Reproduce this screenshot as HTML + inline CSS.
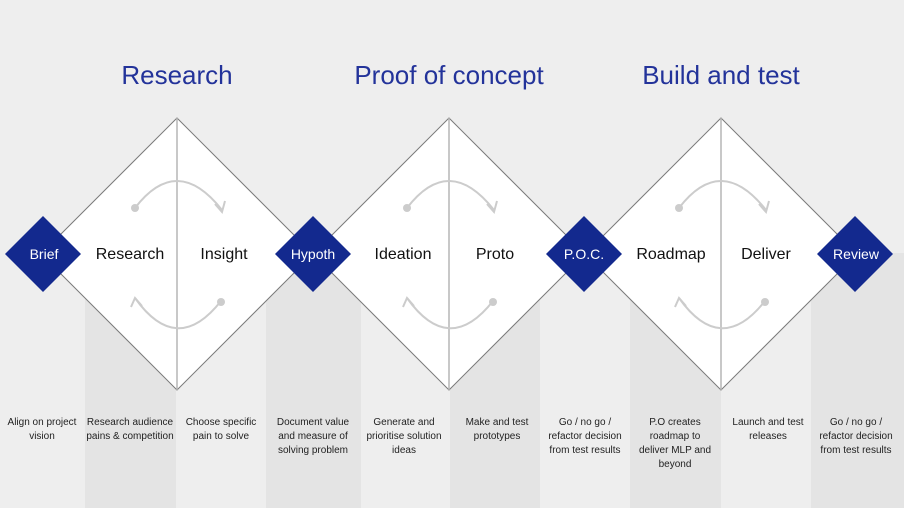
<!DOCTYPE html>
<html><head><meta charset="utf-8"><style>
html,body{margin:0;padding:0;background:#eeeeee;}
svg{display:block;font-family:"Liberation Sans",sans-serif;}
</style></head><body>
<svg width="904" height="508" viewBox="0 0 904 508" xmlns="http://www.w3.org/2000/svg">
<rect width="904" height="508" fill="#eeeeee"/>
<g fill="#e4e4e4">
<rect x="85" y="253" width="91" height="255"/>
<rect x="266" y="253" width="95" height="255"/>
<rect x="450" y="253" width="90" height="255"/>
<rect x="630" y="253" width="91" height="255"/>
<rect x="811" y="253" width="93" height="255"/>
</g>
<g fill="#ffffff" stroke="#7a7a7a" stroke-width="1">
<polygon points="177,118 313,254 177,390 41,254"/>
<polygon points="449,118 585,254 449,390 313,254"/>
<polygon points="721,118 857,254 721,390 585,254"/>
</g>
<g stroke="#b5b5b5" stroke-width="1.5">
<line x1="177" y1="118" x2="177" y2="390"/>
<line x1="449" y1="118" x2="449" y2="390"/>
<line x1="721" y1="118" x2="721" y2="390"/>
</g>
<g id="arcs" fill="none" stroke="#cccccc" stroke-width="2">
<path d="M135,208 Q177,153 222,210"/>
<path d="M215,204 L222,212 L225,201"/>
<path d="M221,301 Q177,357 135,298"/>
<path d="M131,307 L135,298 L142,306"/>
</g>
<g fill="#cccccc">
<circle cx="135" cy="208" r="4"/>
<circle cx="221" cy="302" r="4"/>
</g>
<use href="#arcs" x="272"/>
<use href="#arcs" x="544"/>
<g fill="#cccccc">
<circle cx="407" cy="208" r="4"/><circle cx="493" cy="302" r="4"/>
<circle cx="679" cy="208" r="4"/><circle cx="765" cy="302" r="4"/>
</g>
<g fill="#13298e">
<polygon points="43,216 81,254 43,292 5,254"/>
<polygon points="313,216 351,254 313,292 275,254"/>
<polygon points="584,216 622,254 584,292 546,254"/>
<polygon points="855,216 893,254 855,292 817,254"/>
</g>
<g fill="#ffffff" font-size="14" text-anchor="middle">
<text x="44" y="259">Brief</text>
<text x="313" y="259">Hypoth</text>
<text x="584" y="259">P.O.C.</text>
<text x="856" y="259">Review</text>
</g>
<g fill="#111" font-size="16" text-anchor="middle">
<text x="130" y="259">Research</text>
<text x="224" y="259">Insight</text>
<text x="403" y="259">Ideation</text>
<text x="495" y="259">Proto</text>
<text x="671" y="259">Roadmap</text>
<text x="766" y="259">Deliver</text>
</g>
<g fill="#23339a" font-size="26" text-anchor="middle">
<text x="177" y="84">Research</text>
<text x="449" y="84">Proof of concept</text>
<text x="721" y="84">Build and test</text>
</g>
<g fill="#222" font-size="10" text-anchor="middle">
<text x="42" y="425">Align on project</text><text x="42" y="439">vision</text>
<text x="130" y="425">Research audience</text><text x="130" y="439">pains &amp; competition</text>
<text x="221" y="425">Choose specific</text><text x="221" y="439">pain to solve</text>
<text x="313" y="425">Document value</text><text x="313" y="439">and measure of</text><text x="313" y="453">solving problem</text>
<text x="404" y="425">Generate and</text><text x="404" y="439">prioritise solution</text><text x="404" y="453">ideas</text>
<text x="497" y="425">Make and test</text><text x="497" y="439">prototypes</text>
<text x="585" y="425">Go / no go /</text><text x="585" y="439">refactor decision</text><text x="585" y="453">from test results</text>
<text x="675" y="425">P.O creates</text><text x="675" y="439">roadmap to</text><text x="675" y="453">deliver MLP and</text><text x="675" y="467">beyond</text>
<text x="768" y="425">Launch and test</text><text x="768" y="439">releases</text>
<text x="856" y="425">Go / no go /</text><text x="856" y="439">refactor decision</text><text x="856" y="453">from test results</text>
</g>
</svg>
</body></html>
